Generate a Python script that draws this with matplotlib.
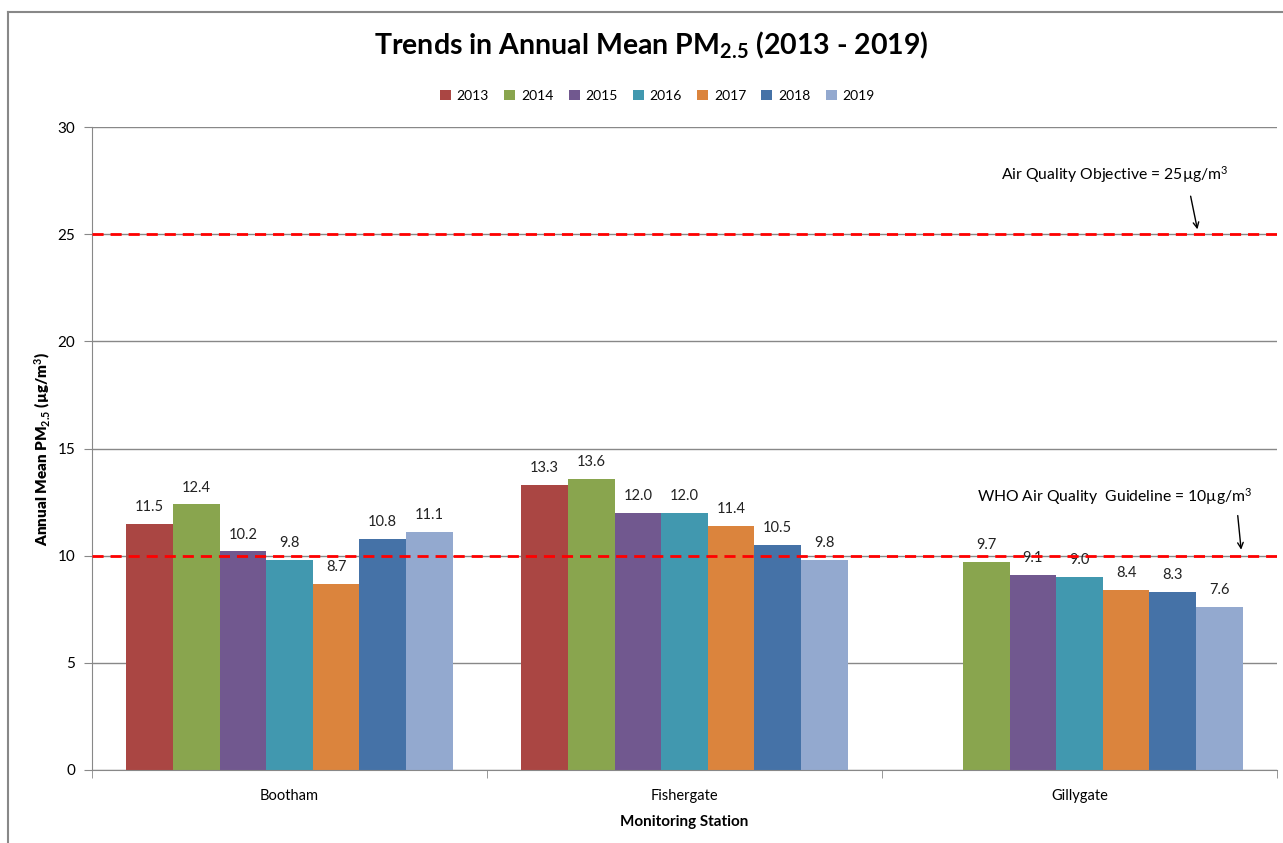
import numpy as np
import matplotlib.pyplot as plt
from matplotlib.lines import Line2D

plt.rcParams['font.family'] = ['Lato', 'DejaVu Sans']
plt.rcParams['mathtext.fontset'] = 'custom'
plt.rcParams['mathtext.rm'] = 'Lato'
plt.rcParams['mathtext.it'] = 'Lato:italic'
plt.rcParams['mathtext.bf'] = 'Lato:bold'

# data
stations = ['Bootham', 'Fishergate', 'Gillygate']
years = ['2013', '2014', '2015', '2016', '2017', '2018', '2019']
bootham = [11.5, 12.4, 10.2, 9.8, 8.7, 10.8, 11.1]
fishergate = [13.3, 13.6, 12.0, 12.0, 11.4, 10.5, 9.8]
gillygate = [np.nan, 9.7, 9.1, 9.0, 8.4, 8.3, 7.6]
colors = ['#AA4643', '#89A54E', '#71588F', '#4198AF', '#DB843D', '#4572A7', '#93A9CF']
objective = 25
who_guideline = 10

values = np.array([bootham, fishergate, gillygate])

fig = plt.figure(figsize=(12.83, 8.43), dpi=100)
ax = fig.add_axes([0.0717, 0.0866, 0.9236, 0.7627])

x = np.arange(len(stations))
w = 0.118
for i, yr in enumerate(years):
    pos = x + (i - 3) * w
    vals = values[:, i]
    ax.bar(pos, vals, w, color=colors[i], label=yr, zorder=2)
    for p, v in zip(pos, vals):
        if not np.isnan(v):
            ax.text(p, v + 0.45, f'{v:.1f}', ha='center', va='bottom', fontsize=10.5, color='#222222')

ax.axhline(objective, color='red', ls=(0, (4, 2.5)), lw=2, zorder=3)
ax.axhline(who_guideline, color='red', ls=(0, (4, 2.5)), lw=2, zorder=3)

ax.set_xlim(-0.5, 2.5)
ax.set_ylim(0, 30)
ax.set_yticks(range(0, 31, 5))
ax.yaxis.grid(True, color='#888888', lw=1, zorder=0)
ax.set_axisbelow(True)
ax.set_xticks(x)
ax.set_xticklabels(stations, fontsize=10.5)
ax.set_xticks([-0.5, 0.5, 1.5, 2.5], minor=True)
ax.tick_params(axis='x', which='major', length=0, pad=14)
ax.tick_params(axis='x', which='minor', length=6, color='#888888')
ax.tick_params(axis='y', length=6, color='#888888', labelsize=11, pad=6)
for s in ['top', 'right']:
    ax.spines[s].set_visible(False)
for s in ['left', 'bottom']:
    ax.spines[s].set_color('#888888')

ax.set_xlabel('Monitoring Station', fontsize=11, fontweight='bold', labelpad=8)
ax.set_ylabel(r'Annual Mean PM$_{\mathbf{2.5}}$ (µg/m$^{\mathbf{3}}$)', fontsize=11,
              fontweight='heavy', labelpad=4)

fig.text(0.508, 0.946, r'Trends in Annual Mean PM$_{\mathbf{2.5}}$ (2013 - 2019)',
         ha='center', va='center', fontsize=20.5, fontweight='bold')
ax.legend(loc='lower center', bbox_to_anchor=(0.477, 1.02), ncol=7, frameon=False,
          fontsize=10, handlelength=0.8, handleheight=0.8, handletextpad=0.4, columnspacing=1.1)

ax.annotate('', xy=(2.30, 25.1), xytext=(2.28, 26.9),
            arrowprops=dict(arrowstyle='->', color='black', lw=1))
ax.text(2.09, 27.8, 'Air Quality Objective = 25µg/m$^3$', ha='center', va='center', fontsize=11.3)
ax.annotate('', xy=(2.41, 10.15), xytext=(2.40, 12.0),
            arrowprops=dict(arrowstyle='->', color='black', lw=1))
ax.text(2.09, 12.75, 'WHO Air Quality  Guideline = 10µg/m$^3$', ha='center', va='center', fontsize=11.3)

# outer chart frame
fig.add_artist(Line2D([8 / 1283, 8 / 1283], [0, 1 - 12 / 843], color='#888888', lw=1.5, transform=fig.transFigure))
fig.add_artist(Line2D([8 / 1283, 1], [1 - 12 / 843, 1 - 12 / 843], color='#888888', lw=1.5, transform=fig.transFigure))

fig.savefig('out.png', dpi=100)
